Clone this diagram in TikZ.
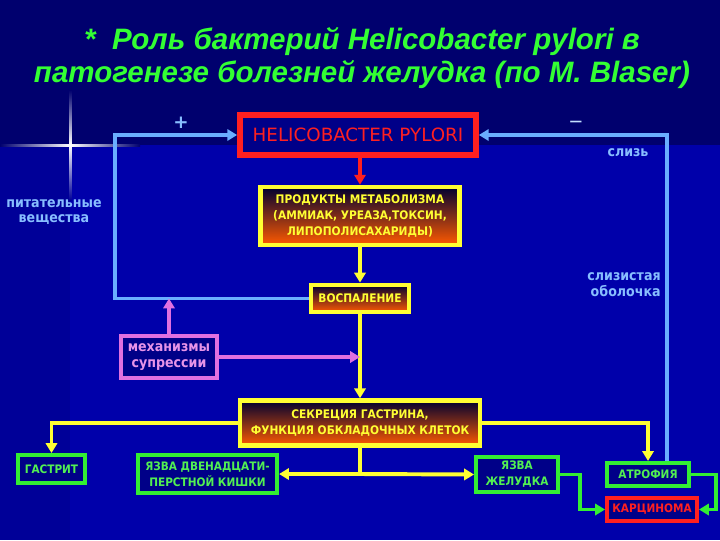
\documentclass[tikz,border=0pt]{standalone}
\usepackage{fontspec}
\setmainfont{DejaVu Sans}
\newfontfamily\titlefont{Liberation Sans}
\newfontfamily\boxfont{DejaVu Sans Condensed}
\usetikzlibrary{arrows.meta,positioning}
\definecolor{slideTop}{HTML}{00006E}
\definecolor{slideLeft}{HTML}{000098}
\definecolor{slideMain}{HTML}{0000AA}
\definecolor{boxFill}{HTML}{000088}
\definecolor{hpRed}{HTML}{FF2020}
\definecolor{chainYellow}{HTML}{FFFF33}
\definecolor{outGreen}{HTML}{33EE33}
\definecolor{loopBlue}{HTML}{6AAEFF}
\definecolor{supMagenta}{HTML}{E070E0}
\definecolor{titleGreen}{HTML}{33FF33}
\definecolor{chainTop}{HTML}{000030}
\definecolor{chainMid}{HTML}{5A0040}
\definecolor{chainBot}{HTML}{FF5A00}

\begin{document}
\begin{tikzpicture}[
  x=0.025cm, y=-0.025cm,
  hpbox/.style={draw=hpRed, line width=4pt, fill=boxFill, text=hpRed,
                font=\fontsize{13}{15}\selectfont, inner sep=0pt,
                minimum width=5.9cm, minimum height=1cm},
  chain/.style={draw=chainYellow, line width=3.3pt, top color=chainTop,
                middle color=chainMid, bottom color=chainBot, text=chainYellow,
                font=\boxfont\bfseries\fontsize{8.4}{11.3}\selectfont, align=center, inner sep=0pt},
  outc/.style={draw=outGreen, line width=2.8pt, fill=boxFill, text=outGreen!85!white,
               font=\boxfont\bfseries\fontsize{8.3}{11.3}\selectfont, align=center, inner sep=0pt},
  carc/.style={outc, draw=hpRed, text=hpRed},
  supbox/.style={draw=supMagenta, line width=2.8pt, fill=boxFill, text=supMagenta!75!white,
                 font=\boxfont\bfseries\fontsize{10}{11.3}\selectfont, align=center, inner sep=0pt,
                 minimum width=2.4cm, minimum height=1.03cm},
  lbl/.style={text=loopBlue!80!white, font=\boxfont\bfseries\fontsize{10}{11.3}\selectfont,
              align=center, inner sep=0pt},
  arr/.style={-{Triangle[length=7pt,width=8pt]}, line width=2.8pt},
  yarr/.style={arr, chainYellow},
  barr/.style={arr, loopBlue},
  marr/.style={arr, supMagenta},
  garr/.style={arr, outGreen},
  rarr/.style={arr, hpRed}
]
% slide background
\fill[slideTop]  (0,0)   rectangle (720,540);
\fill[slideLeft] (0,145) rectangle (70,540);
\fill[slideMain] (70,145) rectangle (720,540);
\shade[left color=slideTop, right color=slideTop, middle color=white] (0,144) rectangle (140,146.5);
\shade[top color=slideTop, bottom color=slideLeft, middle color=white] (69,90) rectangle (71.5,200);

% title
\node[text=titleGreen, font=\titlefont\bfseries\itshape\fontsize{21}{24}\selectfont, align=center]
  (title) at (362,58) {*\ \ Роль бактерий Helicobacter pylori в\\патогенезе болезней желудка (по M. Blaser)};

% main chain
\node[hpbox] (hp) at (358,135) {HELICOBACTER PYLORI};
\node[chain, minimum width=4.98cm, minimum height=1.45cm] (prod) at (360,216)
  {ПРОДУКТЫ МЕТАБОЛИЗМА\\(АММИАК, УРЕАЗА,ТОКСИН,\\ЛИПОПОЛИСАХАРИДЫ)};
\node[chain, minimum width=2.45cm, minimum height=0.68cm] (vosp) at (360,298.5) {ВОСПАЛЕНИЕ};
\node[supbox] (supr) at (169,357) {механизмы\\супрессии};
\node[chain, minimum width=6cm, minimum height=1.12cm] (sekr) at (360,423)
  {СЕКРЕЦИЯ ГАСТРИНА,\\ФУНКЦИЯ ОБКЛАДОЧНЫХ КЛЕТОК};

% outcomes
\node[outc, minimum width=1.68cm, minimum height=0.7cm] (gastr) at (51.5,469) {ГАСТРИТ};
\node[outc, minimum width=3.48cm, minimum height=0.93cm] (yazvad) at (207.5,474) {ЯЗВА ДВЕНАДЦАТИ-\\ПЕРСТНОЙ КИШКИ};
\node[outc, minimum width=2.05cm, minimum height=0.88cm] (yazvaz) at (517,474.5) {ЯЗВА\\ЖЕЛУДКА};
\node[outc, minimum width=2.05cm, minimum height=0.58cm] (atrof) at (648,474.5) {АТРОФИЯ};
\node[carc, minimum width=2.25cm, minimum height=0.58cm] (karc) at (652,509.5) {КАРЦИНОМА};

% loop labels
\node[lbl, font=\bfseries\fontsize{13}{13}\selectfont] (plus)  at (181,123) {+};
\node[lbl, text=loopBlue!40!white, font=\bfseries\fontsize{9}{9}\selectfont] (minus) at (576,123) {—};
\node[lbl] (sliz)  at (628,153) {слизь};
\node[lbl, align=right, anchor=east] (obol) at (661,285) {слизистая\\оболочка};
\node[lbl] (pit)   at (54,212) {питательные\\вещества};

\coordinate (lloop) at (115,135);
\coordinate (rloop) at (667,135);
\coordinate (split) at (360,474);
\coordinate (gleft) at (580,474.5);
\coordinate (gright) at (716,474.5);

% connectors
\draw[rarr] (hp.south -| prod.north) -- (prod);
\draw[yarr] (prod) -- (vosp);
\draw[yarr] (vosp) -- (sekr);
\draw[barr] (vosp.west) -| (lloop) -- (hp.west);
\draw[barr] (rloop |- atrof.north) -- (rloop) -- (hp.east);
\draw[marr] (supr.north) -- (supr.north |- vosp.west);
\draw[marr] (supr.east) -- (supr.east -| sekr.north);
\draw[yarr] (sekr.west) -| (gastr.north);
\draw[yarr] (sekr.east) -| (atrof.north);
\draw[chainYellow, line width=2.8pt] (sekr.south) -- (split);
\draw[yarr] (split) -- (yazvad.east);
\draw[yarr] (split) -- (yazvaz.west);
\draw[garr] (yazvaz.east) -- (gleft) |- (karc.west);
\draw[garr] (atrof.east) -- (gright) |- (karc.east);
\end{tikzpicture}
\end{document}
